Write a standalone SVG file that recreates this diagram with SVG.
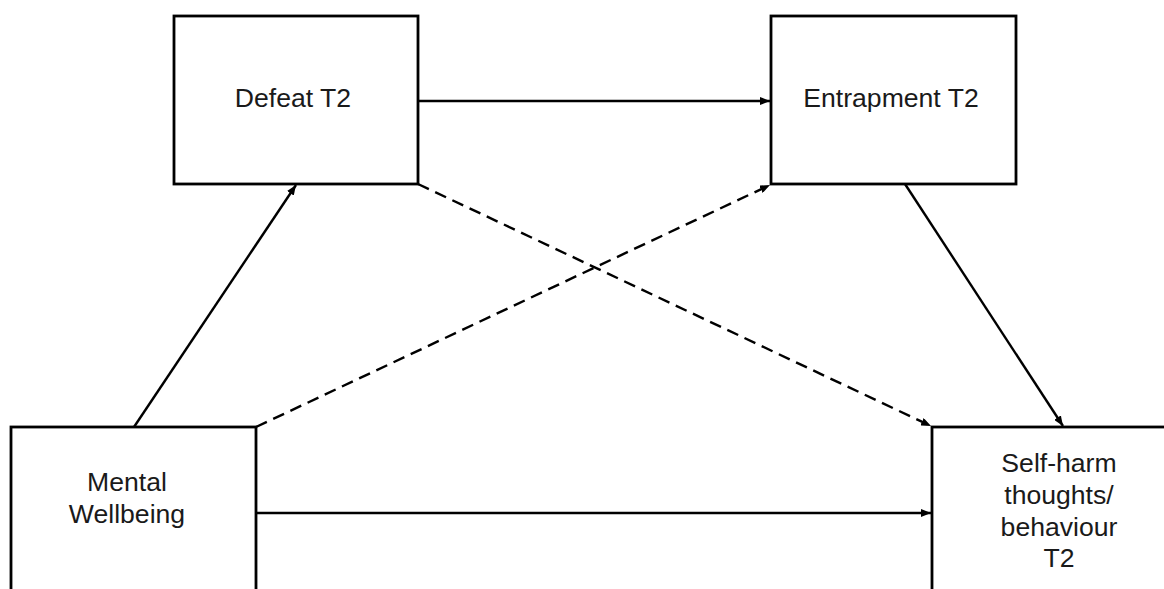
<svg xmlns="http://www.w3.org/2000/svg" width="1164" height="589" viewBox="0 0 1164 589">
<style>
.box{fill:#fff;stroke:#000;stroke-width:2.8}
.t{font-family:"Liberation Sans",Arial,sans-serif;font-size:26.6px;fill:#1a1a1a;text-anchor:middle}
.c{stroke:#000;stroke-width:2.4;fill:none;marker-end:url(#ah)}
.d{stroke-dasharray:12 7}
</style>
<defs>
<marker id="ah" viewBox="0 0 10 8" refX="10" refY="4" markerWidth="10" markerHeight="8" markerUnits="userSpaceOnUse" orient="auto">
<path d="M0,0 L10,4 L0,8 Z" fill="#000"/>
</marker>
</defs>
<rect width="1164" height="589" fill="#fff"/>
<g id="defeat"><rect class="box" x="174" y="16" width="244" height="168"/><text class="t" x="293" y="107">Defeat T2</text></g>
<g id="entrapment"><rect class="box" x="771" y="16" width="245" height="168"/><text class="t" x="891" y="107">Entrapment T2</text></g>
<g id="mental"><rect class="box" x="11" y="427" width="245" height="180"/><text class="t" x="127" y="491">Mental</text><text class="t" x="127" y="523">Wellbeing</text></g>
<g id="selfharm"><rect class="box" x="932" y="427" width="250" height="180"/><text class="t" x="1059" y="472">Self-harm</text><text class="t" x="1059" y="504">thoughts/</text><text class="t" x="1059" y="536">behaviour</text><text class="t" x="1059" y="567">T2</text></g>
<g id="connectors">
<line class="c" x1="418" y1="101" x2="770" y2="101"/>
<line class="c" x1="134" y1="427" x2="296" y2="185"/>
<line class="c d" x1="256" y1="427" x2="770" y2="185"/>
<line class="c d" x1="418" y1="184" x2="931" y2="426"/>
<line class="c" x1="905" y1="184" x2="1063" y2="426"/>
<line class="c" x1="256" y1="513" x2="931" y2="513"/>
</g>
</svg>
